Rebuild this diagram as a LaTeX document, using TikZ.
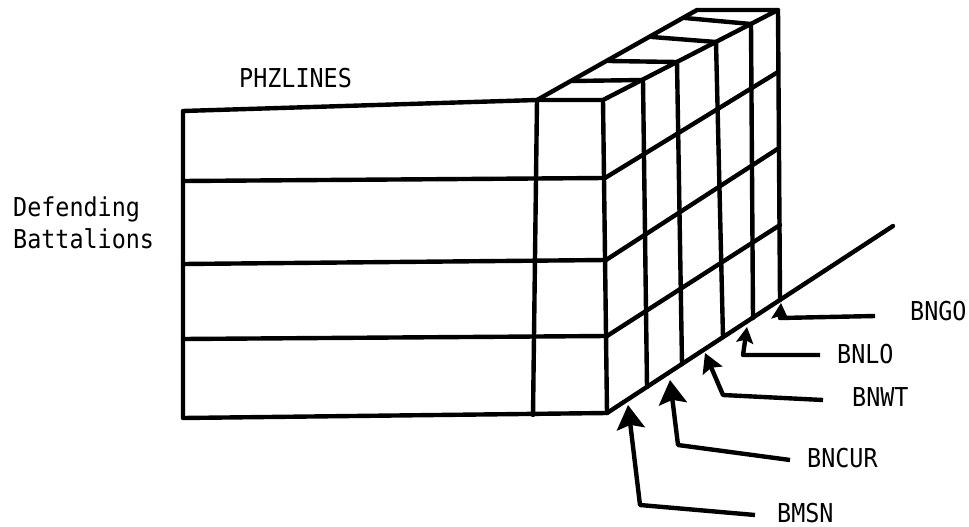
\documentclass[tikz,border=0pt]{standalone}
\usepackage{fontspec}
\newfontfamily\lgfont[FakeStretch=0.9]{DejaVu Sans Mono}
\usetikzlibrary{arrows.meta}
\begin{document}
\begin{tikzpicture}[x=1pt,y=-1pt,
  edge/.style={line width=4.4pt, line cap=round, line join=round},
  leader/.style={line width=4.4pt, line join=round},
  headL/.style={-{Stealth[length=24pt,width=28pt,inset=4pt]}},
  headM/.style={-{Stealth[length=19pt,width=21pt,inset=3pt]}},
  headS/.style={-{Stealth[length=16pt,width=17pt,inset=3pt]}},
  lbl/.style={font=\lgfont\fontsize{26}{32}\selectfont, inner sep=0pt, anchor=west}]
\useasboundingbox[fill=white] (0,0) rectangle (969,527);

% ---- front face ----
\coordinate (FTL) at (183,111);
\coordinate (FBL) at (183,418);
\coordinate (CT)  at (537,100);
\coordinate (CB)  at (533,415);
\coordinate (R0)  at (603,100);
\coordinate (G0)  at (607,413);
\coordinate (A1) at (183,181); \coordinate (B1) at (605,178);
\coordinate (A2) at (183,264); \coordinate (B2) at (606,260);
\coordinate (A3) at (183,339); \coordinate (B3) at (607,336);
% ---- back edge ----
\coordinate (K0) at (778,10);
\coordinate (K1) at (778,72);
\coordinate (K2) at (779,148);
\coordinate (K3) at (780,225);
\coordinate (K4) at (780,300);
\coordinate (TBL) at (697,10);
\coordinate (GE) at (893,226);
% ---- top face divisions ----
\coordinate (L1) at (572,81);  \coordinate (R1) at (643,80);
\coordinate (L2) at (609,61);  \coordinate (R2) at (677,62);
\coordinate (L3) at (652,37);  \coordinate (R3) at (716,42);
\coordinate (L4) at (685,18);  \coordinate (R4) at (751,24);
% ---- bottoms of right-face verticals ----
\coordinate (W1) at (647,387);
\coordinate (W2) at (682,364);
\coordinate (W3) at (723,337);
\coordinate (W4) at (753,318);

\draw[edge] (FTL) -- (FBL) -- (G0) -- (R0) -- (CT) -- cycle;
\draw[edge] (CT) -- (CB);
\draw[edge] (A1) -- (B1);
\draw[edge] (A2) -- (B2);
\draw[edge] (A3) -- (B3);
\draw[edge] (CT) -- (TBL) -- (K0) -- (R0);
\draw[edge] (K0) -- (K4);
\draw[edge] (G0) -- (GE);
\draw[edge] (B1) -- (K1);
\draw[edge] (B2) -- (K2);
\draw[edge] (B3) -- (K3);
\draw[edge] (L1) -- (R1) -- (W1);
\draw[edge] (L2) -- (R2) -- (W2);
\draw[edge] (L3) -- (R3) -- (W3);
\draw[edge] (L4) -- (R4) -- (W4);

% ---- labels ----
\node[lbl] (phz) at (239,78) {PHZLINES};
\node[lbl, anchor=north west, align=left] (def) at (13,197) {Defending\\Battalions};
\node[lbl] (bngo)  at (910,311) {BNGO};
\node[lbl] (bnlo)  at (837,354) {BNLO};
\node[lbl] (bnwt)  at (852,397) {BNWT};
\node[lbl] (bncur) at (807,458) {BNCUR};
\node[lbl] (bmsn)  at (777,513) {BMSN};

% ---- leaders ----
\coordinate (goTip) at (781,303); \coordinate (goBend) at (780,318); \coordinate (goEnd) at (875,316);
\coordinate (loTip) at (747,327); \coordinate (loBend) at (743,355); \coordinate (loEnd) at (820,355);
\coordinate (wtTip) at (705,353); \coordinate (wtBend) at (723,395); \coordinate (wtEnd) at (823,400);
\coordinate (cuTip) at (670,380); \coordinate (cuBend) at (678,445); \coordinate (cuEnd) at (790,460);
\coordinate (msTip) at (628,405); \coordinate (msBend) at (640,505); \coordinate (msEnd) at (755,515);

\draw[leader, headS] (goEnd) -- (goBend) -- (goTip);
\draw[leader, headS] (loEnd) -- (loBend) -- (loTip);
\draw[leader, headM] (wtEnd) -- (wtBend) -- (wtTip);
\draw[leader, headL] (cuEnd) -- (cuBend) -- (cuTip);
\draw[leader, headL] (msEnd) -- (msBend) -- (msTip);
\end{tikzpicture}
\end{document}
